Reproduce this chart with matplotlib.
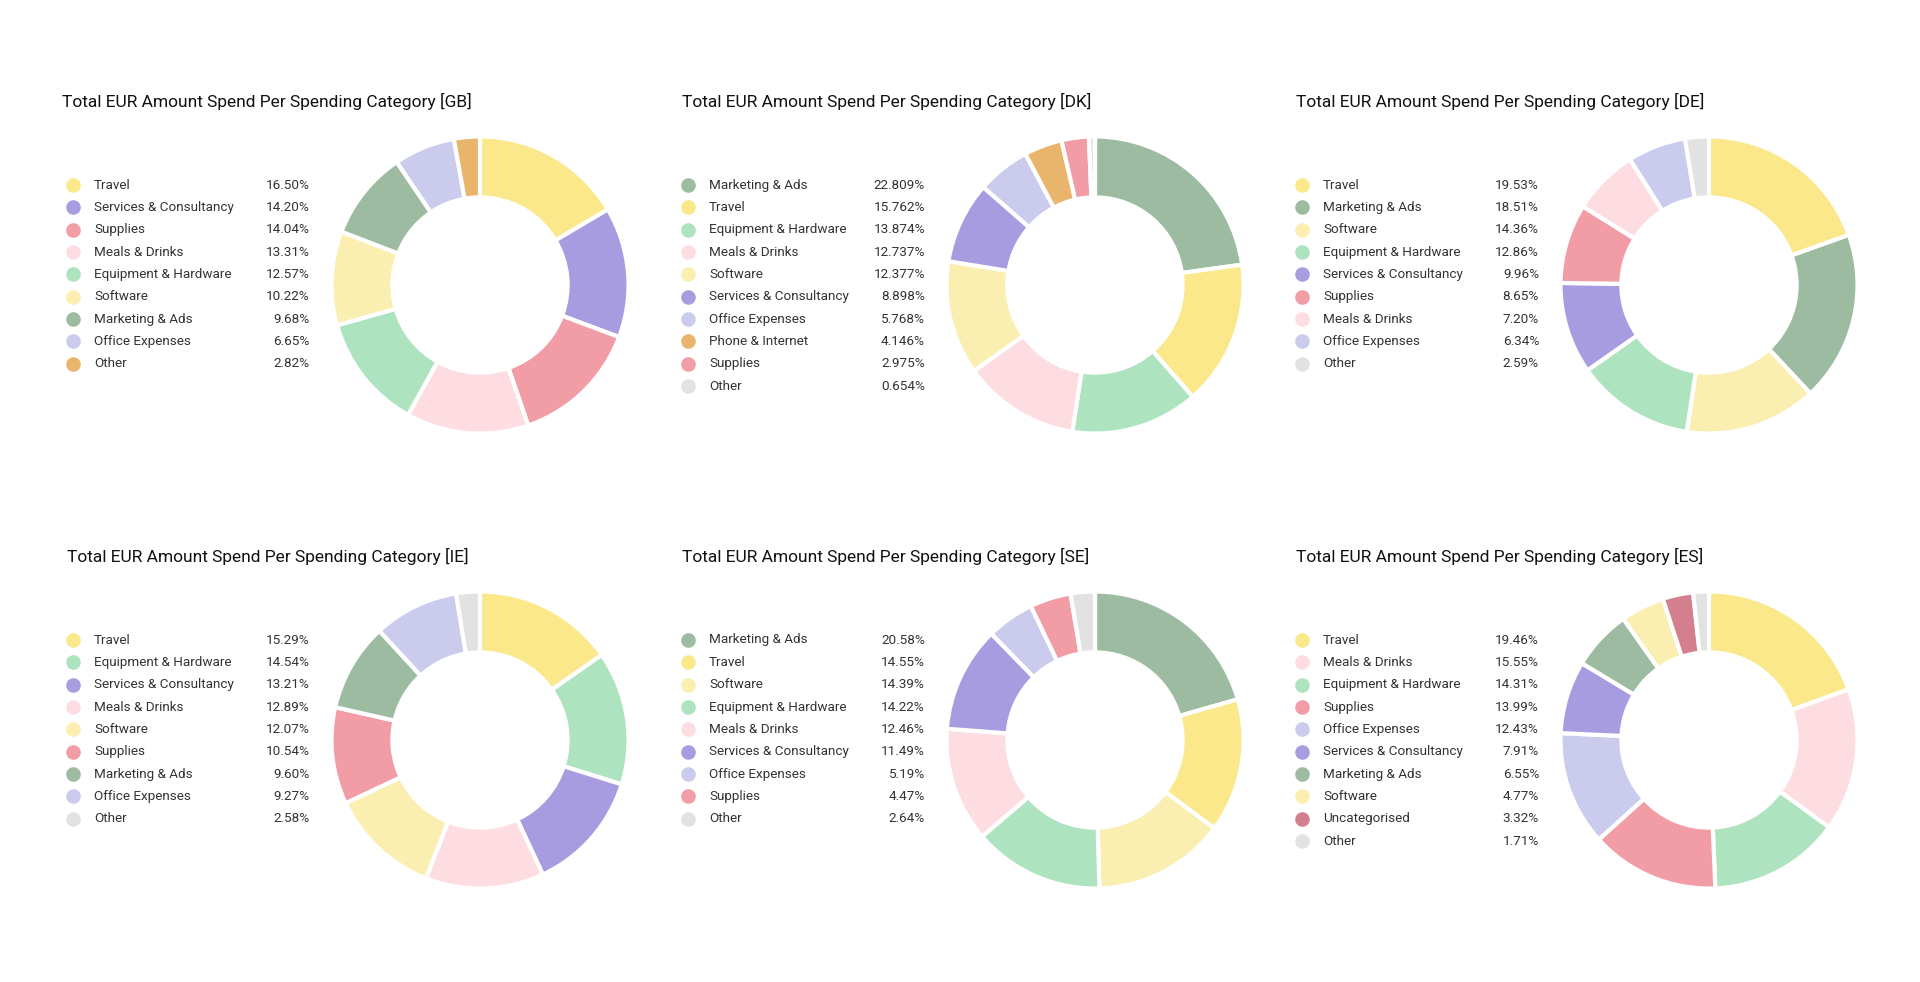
import matplotlib
matplotlib.use("Agg")
import matplotlib.pyplot as plt

plt.rcParams['font.family'] = ['Roboto', 'DejaVu Sans']

# colours per spending category
colors = {
    "Travel": "#FAE88A",
    "Services & Consultancy": "#A89CE0",
    "Supplies": "#F29CA6",
    "Meals & Drinks": "#FDDDE2",
    "Equipment & Hardware": "#ADE3BE",
    "Software": "#FAEEB0",
    "Marketing & Ads": "#9DBBA0",
    "Office Expenses": "#CBCBEE",
    "Phone & Internet": "#E9B56C",
    "Uncategorised": "#D47F8D",
    "Other": "#E2E2E2",
}

gb_cats = ["Travel", "Services & Consultancy", "Supplies", "Meals & Drinks", "Equipment & Hardware",
           "Software", "Marketing & Ads", "Office Expenses", "Other"]
gb_vals = [16.50, 14.20, 14.04, 13.31, 12.57, 10.22, 9.68, 6.65, 2.82]

dk_cats = ["Marketing & Ads", "Travel", "Equipment & Hardware", "Meals & Drinks", "Software",
           "Services & Consultancy", "Office Expenses", "Phone & Internet", "Supplies", "Other"]
dk_vals = [22.809, 15.762, 13.874, 12.737, 12.377, 8.898, 5.768, 4.146, 2.975, 0.654]

de_cats = ["Travel", "Marketing & Ads", "Software", "Equipment & Hardware", "Services & Consultancy",
           "Supplies", "Meals & Drinks", "Office Expenses", "Other"]
de_vals = [19.53, 18.51, 14.36, 12.86, 9.96, 8.65, 7.20, 6.34, 2.59]

ie_cats = ["Travel", "Equipment & Hardware", "Services & Consultancy", "Meals & Drinks", "Software",
           "Supplies", "Marketing & Ads", "Office Expenses", "Other"]
ie_vals = [15.29, 14.54, 13.21, 12.89, 12.07, 10.54, 9.60, 9.27, 2.58]

se_cats = ["Marketing & Ads", "Travel", "Software", "Equipment & Hardware", "Meals & Drinks",
           "Services & Consultancy", "Office Expenses", "Supplies", "Other"]
se_vals = [20.58, 14.55, 14.39, 14.22, 12.46, 11.49, 5.19, 4.47, 2.64]

es_cats = ["Travel", "Meals & Drinks", "Equipment & Hardware", "Supplies", "Office Expenses",
           "Services & Consultancy", "Marketing & Ads", "Software", "Uncategorised", "Other"]
es_vals = [19.46, 15.55, 14.31, 13.99, 12.43, 7.91, 6.55, 4.77, 3.32, 1.71]

W, H = 1920, 982
fig = plt.figure(figsize=(W / 100, H / 100), dpi=100)
fig.patch.set_facecolor("white")
bg = fig.add_axes([0, 0, 1, 1])
bg.set_xlim(0, W)
bg.set_ylim(H, 0)
bg.axis("off")


def panel(code, cats, vals, x0, y0, title_x, decimals=2, other_color=None):
    # x0: legend left edge, y0: title row, in pixel coords
    bg.text(title_x, y0, f"Total EUR Amount Spend Per Spending Category [{code}]",
            fontsize=12.5, color="#111111", va="center", ha="left")
    cols = [colors[c] for c in cats]
    if other_color is not None:
        cols[-1] = other_color
    # legend
    ly = y0 + 84
    for i, (c, v) in enumerate(zip(cats, vals)):
        yy = ly + i * 22.35
        bg.plot(x0 + 11, yy, "o", ms=10.5, color=cols[i], mec="none")
        bg.text(x0 + 32, yy, c, fontsize=9.7, color="#333333", va="center", ha="left")
        bg.text(x0 + 248, yy, f"{v:.{decimals}f}%", fontsize=9.7, color="#333333",
                va="center", ha="right")
    # donut
    cx, cy, r = x0 + 418, y0 + 184, 150
    ax = fig.add_axes([(cx - r) / W, (H - cy - r) / H, 2 * r / W, 2 * r / H])
    ax.pie(vals, colors=cols, startangle=90, counterclock=False,
           wedgeprops=dict(width=0.41, edgecolor="white", linewidth=3))
    ax.set_xlim(-1.01, 1.01)
    ax.set_ylim(-1.01, 1.01)
    ax.set_aspect("equal")
    ax.axis("off")


panel("GB", gb_cats, gb_vals, 62, 101, 62, other_color=colors["Phone & Internet"])
panel("DK", dk_cats, dk_vals, 677, 101, 682, decimals=3)
panel("DE", de_cats, de_vals, 1291, 101, 1296)
panel("IE", ie_cats, ie_vals, 62, 556, 67)
panel("SE", se_cats, se_vals, 677, 556, 682)
panel("ES", es_cats, es_vals, 1291, 556, 1296)

fig.savefig("out.png", dpi=100, facecolor="white")
